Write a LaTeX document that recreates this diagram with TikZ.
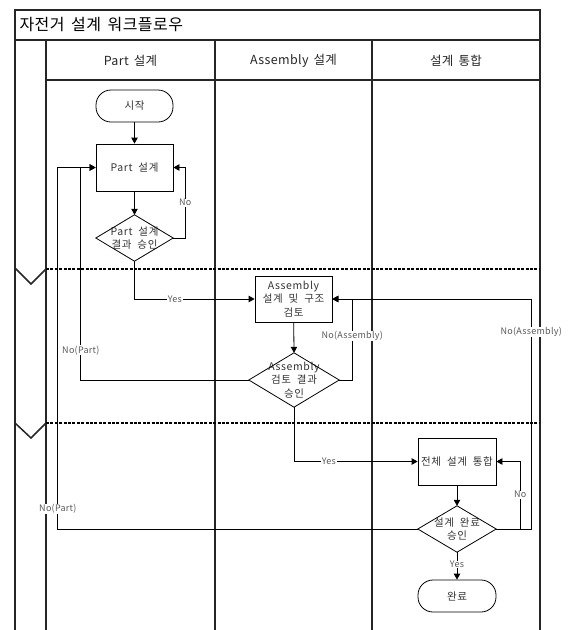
\documentclass[tikz,border=0pt]{standalone}
\usepackage{fontspec}
\setmainfont{Noto Sans CJK KR}
\newfontfamily\myspaced[LetterSpace=6,WordSpace=2]{Noto Sans CJK KR}
\newfontfamily\mylightspaced[LetterSpace=3,WordSpace=1.6]{Noto Sans CJK KR}
\usetikzlibrary{arrows.meta}
\newcommand{\mynodefont}{\myspaced\fontsize{10.5}{13.5}\selectfont}
\newcommand{\mylblfont}{\mylightspaced\fontsize{9}{11}\selectfont}
\newcommand{\myheadfont}{\mylightspaced\fontsize{12.5}{15}\selectfont}
\begin{document}
\begin{tikzpicture}[x=1pt,y=-1pt,
  lane/.style={line width=1.3pt, black!85},
  sep/.style={line width=2.2pt, dash pattern=on 3pt off 1.4pt},
  proc/.style={draw, line width=0.8pt, minimum width=77pt, minimum height=47pt, inner sep=0pt, align=center, font=\mynodefont, text=black!80},
  term/.style={proc, rounded corners=15pt, minimum height=32pt},
  dec/.style={minimum width=77pt, minimum height=46pt, inner sep=0pt, align=center, font=\mynodefont, text=black!80},
  dshape/.style={line width=0.8pt},
  conn/.style={line width=0.8pt, -{Triangle[length=6pt,width=6.5pt]}},
  lbl/.style={fill=white, inner sep=0.6pt, font=\mylblfont, text=black!65},
  head/.style={font=\myheadfont, text=black!85},
]
\useasboundingbox (0,0) rectangle (568,630);
% frame and lanes
\draw[lane] (15,630) -- (15,10) -- (540,10) -- (540,630);
\draw[lane] (15,40) -- (540,40);
\draw[lane] (46,40) -- (46,630);
\draw[lane] (46,80) -- (540,80);
\draw[lane] (215,40) -- (215,630);
\draw[lane] (372,40) -- (372,630);
% chevrons and phase separators
\draw[lane, line width=1.5pt] (15,268) -- (31,284) -- (46,269);
\draw[lane, line width=1.5pt] (15,423) -- (31,438) -- (46,423);
\draw[sep] (46,269) -- (540,269);
\draw[sep] (46,423) -- (540,423);
% titles
\node[anchor=west, font=\mylightspaced\fontsize{16}{19}\selectfont] (title) at (16,25) {자전거 설계 워크플로우};
\node[head] (h1) at (130.5,61) {Part 설계};
\node[head] (h2) at (293.5,61) {Assembly 설계};
\node[head] (h3) at (456,61) {설계 통합};
% nodes
\node[term] (start) at (134.5,106) {시작};
\node[proc] (pd) at (134.5,167.5) {Part 설계};
\node[dec] (pdec) at (134.5,238) {Part 설계\\결과 승인};
\draw[dshape] (pdec.north) -- (pdec.east) -- (pdec.south) -- (pdec.west) -- cycle;
\node[proc, minimum height=46pt] (ad) at (293.5,299) {Assembly\\설계 및 구조\\검토};
\node[dec, minimum width=90pt, minimum height=54pt] (adec) at (294,380) {Assembly\\검토 결과\\승인};
\draw[dshape] (adec.north) -- (adec.east) -- (adec.south) -- (adec.west) -- cycle;
\node[proc, minimum width=78pt] (ib) at (457,461.5) {전체 설계 통합};
\node[dec, minimum width=78pt] (fdec) at (457,529) {설계 완료\\승인};
\draw[dshape] (fdec.north) -- (fdec.east) -- (fdec.south) -- (fdec.west) -- cycle;
\node[term, minimum width=78pt] (end) at (457,596) {완료};
% connectors
\draw[conn] (start) -- (pd);
\draw[conn] (pd) -- (pdec.north);
\draw[conn] (pdec.east) -- ++(12,0) |- node[lbl, pos=0.25] {No} (pd.east);
\draw[conn] (pdec.south) |- node[lbl, pos=0.668] {Yes} (ad.west);
\draw[conn] (ad) -- (adec.north);
\draw[conn] (adec.east) -- ++(13,0) |- node[lbl, pos=0.272] {No(Assembly)} (ad.east);
\draw[conn] (adec.west) -- ++(-168,0) |- node[lbl, pos=0.07] {No(Part)} (pd.west);
\draw[conn] (adec.south) |- node[lbl, pos=0.641] {Yes} (ib.west);
\draw[conn] (ib) -- (fdec.north);
\draw[conn] (fdec.east) -- ++(24,0) |- node[lbl, pos=0.254] {No} (ib.east);
\draw[conn] (fdec.east) -- ++(35,0) |- node[lbl, pos=0.428] {No(Assembly)} (ad.east);
\draw[conn] (fdec.west) -- ++(-360,0) |- node[lbl, pos=0.028] {No(Part)} (pd.west);
\draw[conn] (fdec.south) -- node[lbl, pos=0.45] {Yes} (end);
\end{tikzpicture}
\end{document}
